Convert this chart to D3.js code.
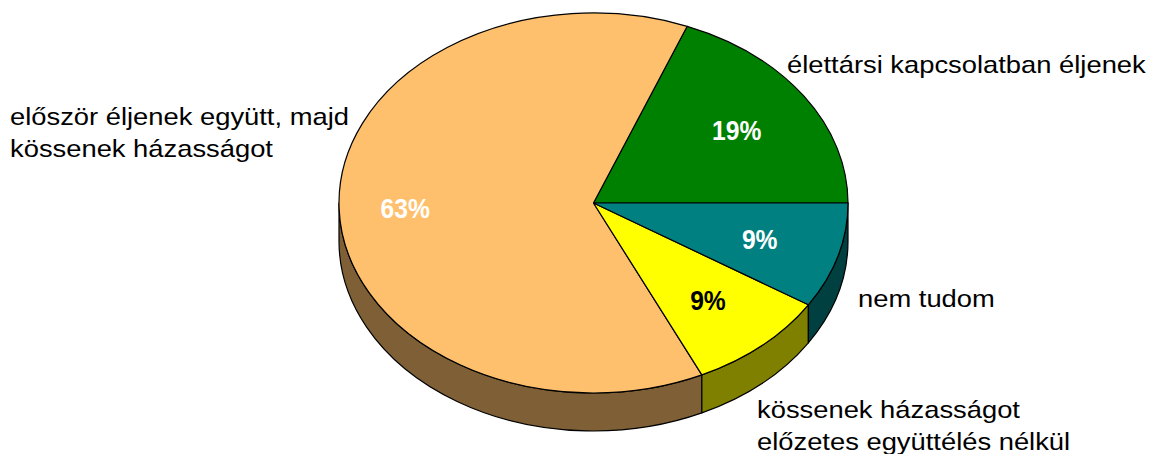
<!DOCTYPE html>
<html>
<head>
<meta charset="utf-8">
<script src="https://cdn.jsdelivr.net/npm/d3@7"></script>
<style>
  body { margin: 0; background: #fff; }
  svg { display: block; }
</style>
</head>
<body>
<div id="chart"></div>
<script>
const categories = [
    ["élettársi kapcsolatban éljenek"],
    ["először éljenek együtt, majd", "kössenek házasságot"],
    ["kössenek házasságot", "előzetes együttélés nélkül"],
    ["nem tudom"]
];
const values = [19, 63, 9, 9];
const percentLabels = ["19%", "63%", "9%", "9%"];

const topColors = ["#008000", "#FFC06D", "#FFFF00", "#008080"];
const sideColors = ["#004000", "#7F6036", "#808000", "#004040"];
const pctColors = ["#fff", "#fff", "#000", "#fff"];

const w = 1156;
const h = 454;
const cx = 593.5, cy = 203;
const rx = 254.5, ry = 190;
const depth = 38;
const stretch = 1.14;     // text in the picture is a bit wide
const pctStretch = 0.88;  // percentages are in a narrow bold face

// where the category labels sit (x, first baseline)
const labelPos = [[787, 73], [10, 125], [757, 418], [858, 307]];
const lineGap = 32;

const svg = d3.select("#chart")
    .append("svg")
    .attr("width", w)
    .attr("height", h);

const arcs = d3.pie().sort(null).value(d => d)(values);

// angle counted counter-clockwise from 3 o'clock, on the tilted ellipse
function pt(a, dy) {
    return [cx + rx * Math.cos(a), cy - ry * Math.sin(a) + (dy || 0)];
}

// front walls (only the part facing us: angles between pi and 2pi)
svg.selectAll("path.side")
    .data(arcs)
    .enter()
    .append("path")
    .attr("class", "side")
    .attr("d", function (d) {
        const s = Math.max(d.startAngle, Math.PI);
        const e = Math.min(d.endAngle, 2 * Math.PI);
        if (s >= e) return null;
        const p0 = pt(s), p1 = pt(e), p2 = pt(e, depth), p3 = pt(s, depth);
        return "M" + p0 + "A" + rx + "," + ry + " 0 0 0 " + p1 +
            "L" + p2 + "A" + rx + "," + ry + " 0 0 1 " + p3 + "Z";
    })
    .attr("fill", (d, i) => sideColors[i])
    .attr("stroke", "#000")
    .attr("stroke-width", 1.2)
    .attr("stroke-linejoin", "round");

// top faces
svg.selectAll("path.top")
    .data(arcs)
    .enter()
    .append("path")
    .attr("class", "top")
    .attr("d", function (d) {
        const large = (d.endAngle - d.startAngle) > Math.PI ? 1 : 0;
        return "M" + cx + "," + cy + "L" + pt(d.startAngle) +
            "A" + rx + "," + ry + " 0 " + large + " 0 " + pt(d.endAngle) + "Z";
    })
    .attr("fill", (d, i) => topColors[i])
    .attr("stroke", "#000")
    .attr("stroke-width", 1.2)
    .attr("stroke-linejoin", "round");

// percentages
svg.selectAll("text.pct")
    .data(arcs)
    .enter()
    .append("text")
    .attr("class", "pct")
    .text((d, i) => percentLabels[i])
    .attr("transform", function (d) {
        const m = (d.startAngle + d.endAngle) / 2;
        const k = d.value > 50 ? 0.74 : 0.68;
        const x = cx + k * rx * Math.cos(m);
        const y = cy - k * ry * Math.sin(m);
        return "translate(" + x + "," + y + ") scale(" + pctStretch + ",1)";
    })
    .attr("dy", "0.36em")
    .attr("text-anchor", "middle")
    .attr("font-family", "'Liberation Sans', Arial, sans-serif")
    .attr("font-weight", "bold")
    .attr("font-size", "28px")
    .attr("fill", (d, i) => pctColors[i]);

// category labels
categories.forEach(function (lines, i) {
    lines.forEach(function (line, j) {
        svg.append("text")
            .text(line)
            .attr("transform", "translate(" + labelPos[i][0] + "," + (labelPos[i][1] + j * lineGap) +
                ") scale(" + stretch + ",1)")
            .attr("font-family", "'Liberation Sans', Arial, sans-serif")
            .attr("font-size", "24px")
            .attr("fill", "#000");
    });
});
</script>
</body>
</html>
